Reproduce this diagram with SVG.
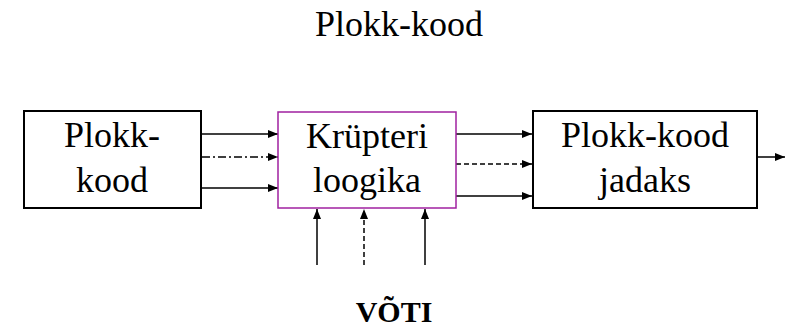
<svg xmlns="http://www.w3.org/2000/svg" width="785" height="327" viewBox="0 0 785 327">
  <defs>
    <marker id="arrow" viewBox="0 0 10 8" refX="10" refY="4" markerWidth="10" markerHeight="8" markerUnits="userSpaceOnUse" orient="auto">
      <path d="M0,0 L10,4 L0,8 Z" fill="#000"/>
    </marker>
    <style>
      .box { fill: #fff; stroke: #000; stroke-width: 2; }
      .crypt { fill: #fff; stroke: #a020a0; stroke-width: 1.5; }
      .lbl { font-family: 'Liberation Serif', 'DejaVu Serif', serif; font-size: 36px; fill: #000; text-anchor: middle; }
      .key { font-family: 'Liberation Serif', 'DejaVu Serif', serif; font-size: 30px; font-weight: bold; fill: #000; text-anchor: middle; }
      .wire { stroke: #000; stroke-width: 1.5; fill: none; marker-end: url(#arrow); }
      .dashdot { stroke-dasharray: 8 3 2 3; }
      .dashed { stroke-dasharray: 5 3; }
    </style>
  </defs>

  <text class="lbl" x="399" y="36">Plokk-kood</text>

  <g id="connectors">
    <line class="wire" x1="202" y1="134" x2="278" y2="134"/>
    <line class="wire dashdot" x1="202" y1="157" x2="278" y2="157"/>
    <line class="wire" x1="202" y1="188" x2="278" y2="188"/>
    <line class="wire" x1="456" y1="134" x2="532" y2="134"/>
    <line class="wire dashed" x1="456" y1="164" x2="532" y2="164"/>
    <line class="wire" x1="456" y1="196" x2="532" y2="196"/>
    <line class="wire" x1="317" y1="265" x2="317" y2="209"/>
    <line class="wire dashed" x1="364" y1="265" x2="364" y2="209"/>
    <line class="wire" x1="425" y1="265" x2="425" y2="209"/>
    <line class="wire" x1="757" y1="157" x2="785" y2="157"/>
  </g>

  <g id="plokk-kood">
    <rect class="box" x="24" y="111" width="177" height="97"/>
    <text class="lbl" x="112" y="147">Plokk-</text>
    <text class="lbl" x="112" y="192">kood</text>
  </g>

  <g id="krupteri-loogika">
    <rect class="crypt" x="278" y="112" width="178" height="96"/>
    <text class="lbl" x="367" y="148">Krüpteri</text>
    <text class="lbl" x="367" y="192">loogika</text>
  </g>

  <g id="plokk-kood-jadaks">
    <rect class="box" x="533" y="111" width="224" height="97"/>
    <text class="lbl" x="645" y="147">Plokk-kood</text>
    <text class="lbl" x="645" y="192">jadaks</text>
  </g>

  <g id="voti">
    <text class="key" x="394" y="322">VÕTI</text>
  </g>
</svg>
